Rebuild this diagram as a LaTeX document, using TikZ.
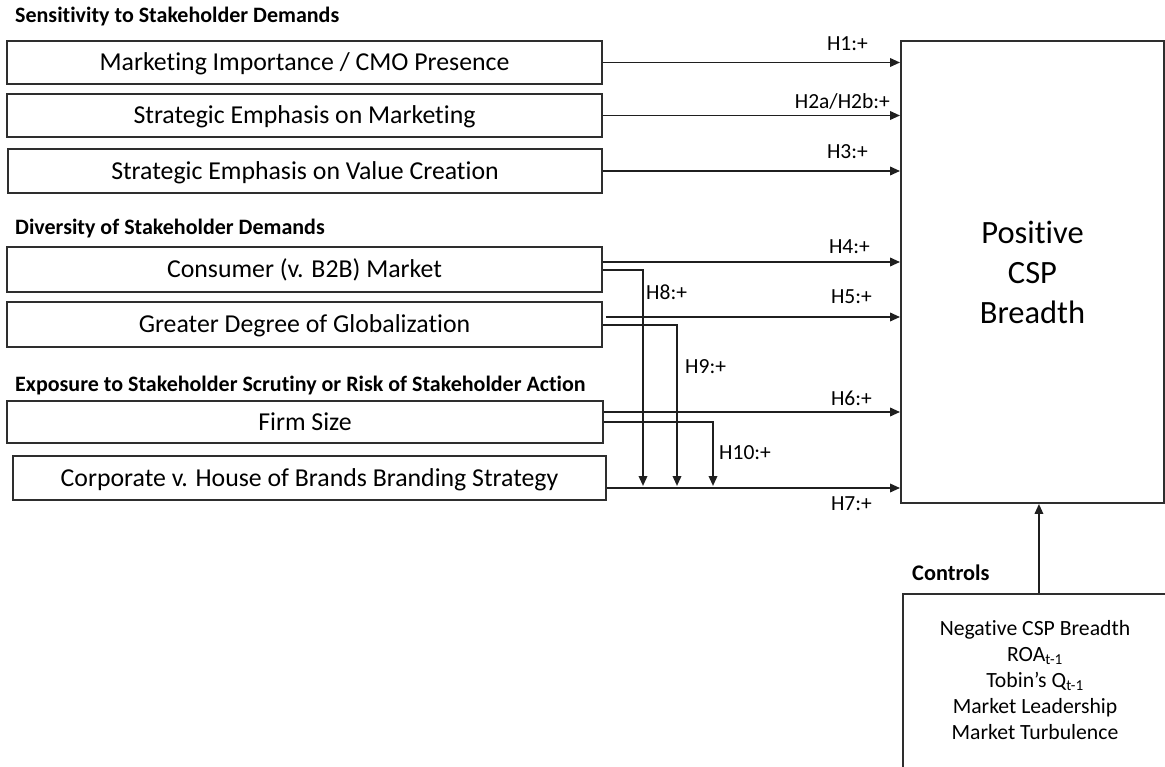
\documentclass[tikz,border=0pt]{standalone}
\usepackage{fontspec}
\setmainfont{Carlito}[Ligatures=NoCommon]
\usetikzlibrary{arrows.meta,calc}
\begin{document}
\begin{tikzpicture}[x=1pt,y=-1pt,
  ln/.style={line width=1.9pt, draw=black!82},
  vbox/.style={ln, rectangle, inner sep=0pt, text height=18pt, text depth=2pt, font=\fontsize{25.8}{30}\selectfont},
  arr/.style={line width=1.9pt, draw=black!88, -{Triangle[length=10pt,width=8.5pt]}},
  hd/.style={font=\bfseries\fontsize{22}{26}\selectfont, anchor=base west, inner sep=0pt},
  lab/.style={font=\fontsize{21.5}{25}\selectfont, anchor=base east, inner sep=0pt},
  labw/.style={font=\fontsize{21.5}{25}\selectfont, anchor=base west, inner sep=0pt},
]
\useasboundingbox (0,0) rectangle (1165,766);
% headings
\node[hd] (h1) at (15,22) {Sensitivity to Stakeholder Demands};
\node[hd] (h2) at (15,234) {Diversity of Stakeholder Demands};
\node[hd] (h3) at (15,391) {Exposure to Stakeholder Scrutiny or Risk of Stakeholder Action};
% boxes
\node[vbox, minimum width=595, minimum height=43] (b1) at (304.5,62.5) {Marketing Importance / CMO Presence};
\node[vbox, minimum width=595, minimum height=43] (b2) at (304.5,115.5) {Strategic Emphasis on Marketing};
\node[vbox, minimum width=594, minimum height=44] (b3) at (305,171) {Strategic Emphasis on Value Creation};
\node[vbox, minimum width=595, minimum height=45] (b4) at (304.5,269.5) {Consumer (v. B2B) Market};
\node[vbox, minimum width=595, minimum height=45] (b5) at (304.5,324.5) {Greater Degree of Globalization};
\node[vbox, minimum width=596, minimum height=42] (b6) at (305,422) {Firm Size};
\node[vbox, minimum width=593, minimum height=44] (b7) at (309.5,478) {Corporate v. House of Brands Branding Strategy};
% outcome
\node[ln, inner sep=0pt, minimum width=263, minimum height=462, align=center,
      font=\fontsize{32.5}{40}\selectfont] (csp) at (1032.5,272) {Positive\\CSP\\Breadth};
% direct effects
\draw[arr] (b1.east) -- (b1.east -| csp.west);
\draw[arr] (b2.east) -- (b2.east -| csp.west);
\draw[arr] (b3.east) -- (b3.east -| csp.west);
\coordinate (p4) at ($(b4.east)+(0,-7.5)$);
\draw[arr] (p4) -- (p4 -| csp.west);
\coordinate (p5) at ($(b5.east)+(3,-7.5)$);
\draw[arr] (p5) -- (p5 -| csp.west);
\coordinate (p6) at ($(b6.east)+(0,-10)$);
\draw[arr] (p6) -- (p6 -| csp.west);
\coordinate (p7) at ($(b7.east)+(0,10)$);
\draw[arr] (p7) -- (p7 -| csp.west);
% moderating effects
\coordinate (q4) at ($(b4.east)+(0,0.5)$);
\coordinate (j8) at (643,486);
\draw[arr] (q4) -| (j8);
\coordinate (q5) at ($(b5.east)+(0,0.5)$);
\coordinate (j9) at (677,486);
\draw[arr] (q5) -| (j9);
\coordinate (q6) at (b6.east);
\coordinate (j10) at (713,486);
\draw[arr] (q6) -| (j10);
% labels
\node[lab] (l1) at (868,50) {H1:+};
\node[lab] (l2) at (890,108) {H2a/H2b:+};
\node[lab] (l3) at (868,158) {H3:+};
\node[lab] (l4) at (870,253) {H4:+};
\node[lab] (l5) at (872,303) {H5:+};
\node[lab] (l6) at (872,405) {H6:+};
\node[lab] (l7) at (872,510) {H7:+};
\node[labw] (l8) at (646,299) {H8:+};
\node[labw] (l9) at (685,373) {H9:+};
\node[labw] (l10) at (719,459) {H10:+};
% controls
\node[ln, inner sep=0pt, minimum width=272, minimum height=230, anchor=north west] (ctrl) at (902,593) {};
\node[font=\bfseries\fontsize{22.3}{26}\selectfont, anchor=base west, inner sep=0pt] (ctl) at (912,580) {Controls};
\node[align=center, font=\fontsize{21.7}{26}\selectfont] (ctxt) at (1035,680) {Negative CSP Breadth\\ROA\textsubscript{t-1}\\Tobin’s Q\textsubscript{t-1}\\Market Leadership\\Market Turbulence};
\draw[arr] (ctrl.north) -- (csp.south -| ctrl.north);
\end{tikzpicture}
\end{document}
